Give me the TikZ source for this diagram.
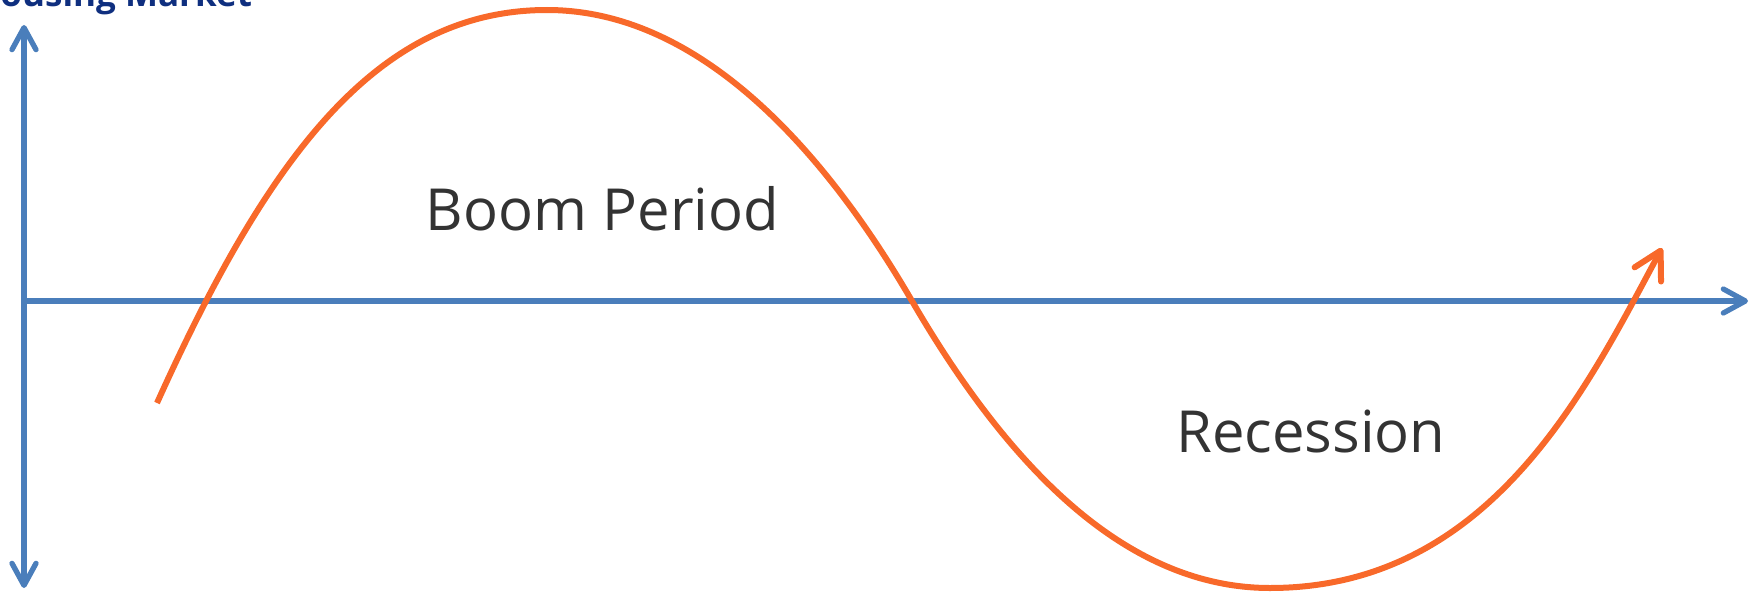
\documentclass[tikz,border=0pt]{standalone}
\usepackage{fontspec}
\setmainfont{Open Sans}
\usetikzlibrary{arrows.meta}
\definecolor{axisblue}{HTML}{4A7EBB}
\definecolor{curveorange}{HTML}{F8692A}
\definecolor{titleblue}{HTML}{0F2F7F}
\definecolor{textgray}{HTML}{333333}
\tikzset{
  bluetip/.tip={Straight Barb[length=22pt, width=24pt, line cap=round, line join=round]},
  axisline/.style={draw=axisblue, line width=5.3pt, line cap=round, -bluetip},
  bothaxis/.style={draw=axisblue, line width=5.3pt, line cap=round, bluetip-bluetip},
  wave/.style={draw=curveorange, line width=6pt,
    -{Straight Barb[length=27pt, width=30pt, line cap=round, line join=round]}},
  bigtext/.style={text=textgray, font=\fontsize{58}{66}\selectfont, inner sep=0pt, anchor=base},
  titletext/.style={text=titleblue, font=\bfseries\fontsize{35}{40}\selectfont, inner sep=0pt, anchor=base west}
}
\begin{document}
\begin{tikzpicture}[x=1pt, y=-1pt]
\useasboundingbox (0,0) rectangle (1758,594);
\coordinate (vtop) at (24,25);
\coordinate (vbot) at (24,588);
\coordinate (hleft) at (24,301);
\coordinate (hright) at (1748,301);
\coordinate (w0) at (157,403);
\coordinate (w1) at (547,10);
\coordinate (w2) at (912,301);
\coordinate (w3) at (1270,588);
\coordinate (w4) at (1662,248);
\draw[bothaxis] (vtop) -- (vbot);
\draw[axisline] (hleft) -- (hright);
\draw[wave] (w0) .. controls (268,157) and (377,10) .. (w1)
  .. controls (697,10) and (821.5,145.5) .. (w2)
  .. controls (1002.5,456.5) and (1120,588) .. (w3)
  .. controls (1490,588) and (1586.3,389) .. (w4);
\node[bigtext] (boom) at (602.5,230) {Boom Period};
\node[bigtext] (rec) at (1311,452) {Recession};
\node[titletext] (title) at (-26.5,7) {Housing Market};
\end{tikzpicture}
\end{document}
